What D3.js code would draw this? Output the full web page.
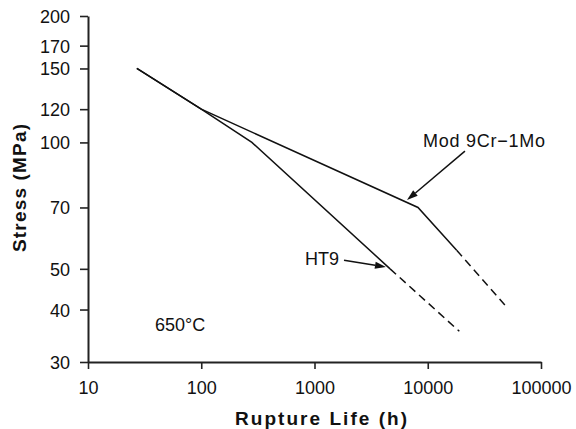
<!DOCTYPE html>
<html><head><meta charset="utf-8">
<script src="https://cdn.jsdelivr.net/npm/d3@7"></script>
<style>
html,body{margin:0;padding:0;background:#fff;}
svg{display:block;font-family:"Liberation Sans",Arial,sans-serif;}
</style></head>
<body>
<svg id="c" width="576" height="429"></svg>
<script>
// Data (rupture life in h, stress in MPa)
const ht9SolidLife = [27, 100, 280, 4650];
const ht9SolidStress = [150, 120, 100, 50];
const ht9DashLife = [4650, 19000];
const ht9DashStress = [50, 35.5];
const modSolidLife = [27, 100, 8200, 18000];
const modSolidStress = [150, 120, 70, 55.4];
const modDashLife = [18000, 48000];
const modDashStress = [55.4, 41];
const xTicks = [10, 100, 1000, 10000, 100000];
const yTicks = [30, 40, 50, 70, 100, 120, 150, 170, 200];
// annotations: [label, labelLife, labelStress, arrowFromLife, arrowFromStress, arrowToLife, arrowToStress]
const modLabel = ["Mod 9Cr\u22121Mo", 9080, 97.3, 21300, 95.3, 6560, 72.9];
const ht9Label = ["HT9", 1645, 51.0, 1822, 52.4, 4277, 50.5];
const tempLabel = ["650\u00b0C", 39, 35.5];

const svg = d3.select("#c");
const x = d3.scaleLog().domain([10, 100000]).range([88, 541]);
const y = d3.scaleLog().domain([30, 200]).range([362, 16]);

const fmt = d => String(d);
const gx = svg.append("g").attr("transform", "translate(0,362)")
  .call(d3.axisBottom(x).tickValues(xTicks).tickFormat(fmt).tickSizeInner(7).tickSizeOuter(0).tickPadding(12));
const gy = svg.append("g").attr("transform", "translate(88,0)")
  .call(d3.axisLeft(y).tickValues(yTicks).tickFormat(fmt).tickSizeInner(8).tickSizeOuter(0).tickPadding(10));
[gx, gy].forEach(g => {
  g.select(".domain").attr("stroke", "#222").attr("stroke-width", 2);
  g.selectAll(".tick line").attr("stroke", "#222").attr("stroke-width", 1.6);
  g.selectAll(".tick text").attr("fill", "#111").style("font-size", "18px").style("font-family", "'Liberation Sans',Arial,sans-serif");
});
gy.selectAll(".tick text").attr("dy", "0.36em");

const line = d3.line().x(d => x(d[0])).y(d => y(d[1]));
function draw(life, stress, dash) {
  svg.append("path").datum(life.map((l, i) => [l, stress[i]]))
    .attr("d", line).attr("fill", "none").attr("stroke", "#111")
    .attr("stroke-width", 1.5).attr("stroke-dasharray", dash || null);
}
draw(ht9SolidLife, ht9SolidStress);
draw(ht9DashLife, ht9DashStress, "8,5");
draw(modSolidLife, modSolidStress);
draw(modDashLife, modDashStress, "8,5");

function arrow(a, anchor, tl) {
  const x1 = x(a[3]), y1 = y(a[4]), x2 = x(a[5]), y2 = y(a[6]);
  const ang = Math.atan2(y2 - y1, x2 - x1);
  const L = 11, W = 3.5;
  const bx = x2 - L * Math.cos(ang), by = y2 - L * Math.sin(ang);
  svg.append("line").attr("x1", x1).attr("y1", y1).attr("x2", bx).attr("y2", by)
    .attr("stroke", "#111").attr("stroke-width", 1.5);
  const px = -Math.sin(ang), py = Math.cos(ang);
  svg.append("path").attr("d", `M${x2},${y2}L${bx + px * W},${by + py * W}L${bx - px * W},${by - py * W}Z`)
    .attr("fill", "#111");
  const t = svg.append("text").attr("x", x(a[1])).attr("y", y(a[2])).attr("text-anchor", anchor)
    .style("font-size", "18px").attr("fill", "#111").text(a[0]);
  if (tl) t.attr("textLength", tl).attr("lengthAdjust", "spacing");
}
arrow(modLabel, "start", 122);
arrow(ht9Label, "end");
svg.append("text").attr("x", x(tempLabel[1])).attr("y", y(tempLabel[2]))
  .style("font-size", "18px").attr("fill", "#111").text(tempLabel[0]);

svg.append("text").attr("x", 235).attr("y", 425)
  .attr("textLength", 172).attr("lengthAdjust", "spacing")
  .style("font-size", "19px").style("font-weight", "bold")
  .attr("fill", "#111").text("Rupture Life (h)");
svg.append("text").attr("transform", "translate(26,252) rotate(-90)")
  .attr("textLength", 128).attr("lengthAdjust", "spacing")
  .style("font-size", "19px").style("font-weight", "bold")
  .attr("fill", "#111").text("Stress (MPa)");
</script>
</body></html>
